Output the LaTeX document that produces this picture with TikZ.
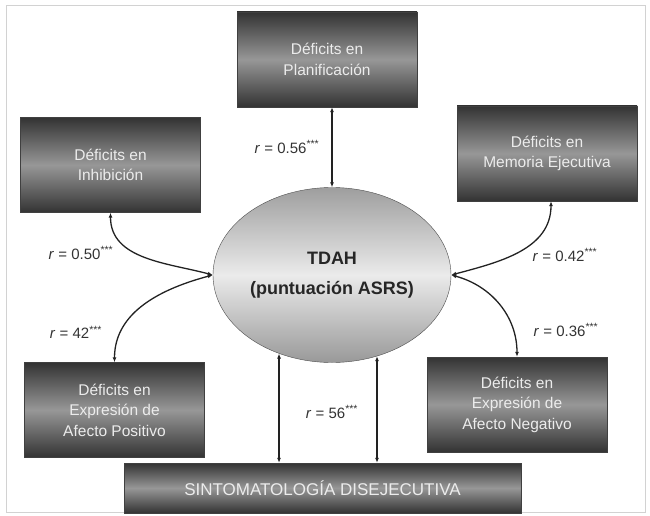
\documentclass[tikz,border=0pt]{standalone}
\usepackage{fontspec}
\setmainfont{Liberation Sans}
\usepackage{xcolor}
\usetikzlibrary{arrows.meta,shapes.geometric}
\definecolor{oscuro}{HTML}{333333}
\definecolor{medio}{HTML}{979797}
\definecolor{linea}{HTML}{222222}

\begin{document}
\begin{tikzpicture}[x=1pt,y=-1pt,
  caja/.style={draw=black!75,minimum width=180pt,minimum height=95pt,align=center,
    top color=oscuro,bottom color=oscuro,middle color=medio,text=white!85!gray,
    font=\fontsize{15.5}{20.5}\selectfont,inner sep=2pt},
  flecha/.style={{Latex[length=5pt,width=4pt]}-{Latex[length=5pt,width=4pt]},line width=1.3pt,draw=linea},
  coef/.style={text=black!80,font=\fontsize{15}{17}\selectfont}]
\useasboundingbox (0,0) rectangle (650,516);
\draw[gray!35,line width=1pt] (6,6) rectangle (645,512);
% cajas
\node[caja] (plan) at (327,59.5) {Déficits en\\Planificación};
\node[caja] (inhib) at (110.5,165) {Déficits en\\Inhibición};
\node[caja] (mem) at (547,153.5) {Déficits en\\Memoria Ejecutiva};
\node[caja] (afpos) at (114.5,410) {Déficits en\\Expresión de\\Afecto Positivo};
\node[caja] (afneg) at (517,404.5) {Déficits en\\Expresión de\\Afecto Negativo};
\node[caja,minimum width=397pt,minimum height=50pt,font=\fontsize{17}{19}\selectfont] (sint) at (322.5,488) {SINTOMATOLOGÍA DISEJECUTIVA};
\node[ellipse,draw=black!70,minimum width=238pt,minimum height=175pt,inner sep=0pt,
  top color=black!38,bottom color=black!40,middle color=black!8,align=center,
  font=\bfseries\fontsize{18}{30}\selectfont,text=black!85] (tdah) at (332,275) {TDAH\\(puntuación ASRS)};
% relaciones
\draw[flecha] (plan.south -| tdah.north) -- (tdah.north);
\draw[flecha] (inhib.south) to[out=-90,in=165] (tdah.west);
\draw[flecha] (afpos.north) to[out=90,in=195] (tdah.west);
\draw[flecha] ([xshift=4pt]mem.south) to[out=-90,in=15] (tdah.east);
\draw[flecha] (afneg.north) to[out=90,in=-15] (tdah.east);
\draw[flecha] (tdah.-124) -- (tdah.-124 |- sint.north);
\draw[flecha] (tdah.-61) -- (tdah.-61 |- sint.north);
% coeficientes
\node[coef] (r1) at (287,147) {\textit{r} = 0.56\textsuperscript{***}};
\node[coef] (r2) at (81,253) {\textit{r} = 0.50\textsuperscript{***}};
\node[coef] (r3) at (565,255) {\textit{r} = 0.42\textsuperscript{***}};
\node[coef] (r4) at (76,332) {\textit{r} = 42\textsuperscript{***}};
\node[coef] (r5) at (566,330) {\textit{r} = 0.36\textsuperscript{***}};
\node[coef] (r6) at (332,412) {\textit{r} = 56\textsuperscript{***}};
\end{tikzpicture}
\end{document}
